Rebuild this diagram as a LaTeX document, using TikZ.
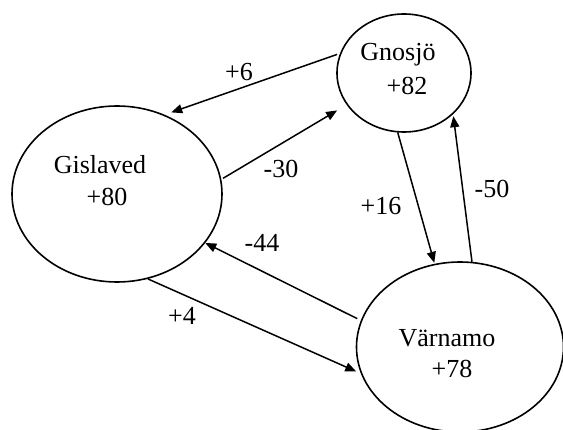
\documentclass[tikz,border=0pt]{standalone}
\usepackage{fontspec}
\setmainfont{Liberation Serif}
\usetikzlibrary{shapes.geometric,arrows.meta}
\begin{document}
\begin{tikzpicture}[x=1pt,y=-1pt,
  town/.style={draw,ellipse,line width=1.6pt,inner sep=0pt},
  txt/.style={inner sep=0pt,font=\fontsize{26}{30}\selectfont},
  flow/.style={line width=1.5pt,-{Triangle[length=11pt,width=9pt]}},
  lbl/.style={inner sep=0pt,font=\fontsize{26}{30}\selectfont}]
\useasboundingbox (0,0) rectangle (563,430);
% towns
\node[town,minimum width=210pt,minimum height=176pt] (gis) at (117,194) {};
\node[town,minimum width=134pt,minimum height=118pt] (gno) at (404,73) {};
\node[town,minimum width=207pt,minimum height=170pt] (var) at (460,347) {};
% town texts
\node[txt] (gisname) at (100,165) {Gislaved};
\node[txt] (gisval) at (107,197) {+80};
\node[txt] (gnoname) at (398,55) {Gnosjö};
\node[txt] (gnoval) at (407,86) {+82};
\node[txt] (varname) at (447,338) {Värnamo};
\node[txt] (varval) at (452,369) {+78};
% flows
\draw[flow,shorten <=3pt,shorten >=7pt] (gno.163) -- (gis.59.5);
\draw[flow,shorten <=2pt,shorten >=11pt] (gis.8.6) -- (gno.209.3);
\draw[flow,shorten >=1pt] (gno.-96.8) -- (var.107.8);
\draw[flow,shorten >=2pt] (var.82.5) -- (gno.-40.1);
\draw[flow,shorten <=4pt] (var.165.2) -- (gis.-29.1);
\draw[flow,shorten >=5pt] (gis.-70.3) -- (var.195.9);
% labels
\node[lbl] (l6) at (239,72) {+6};
\node[lbl] (l30) at (281,169) {-30};
\node[lbl] (l16) at (381,206) {+16};
\node[lbl] (l50) at (492,189) {-50};
\node[lbl] (l44) at (262,243) {-44};
\node[lbl] (l4) at (182,316) {+4};
\end{tikzpicture}
\end{document}
